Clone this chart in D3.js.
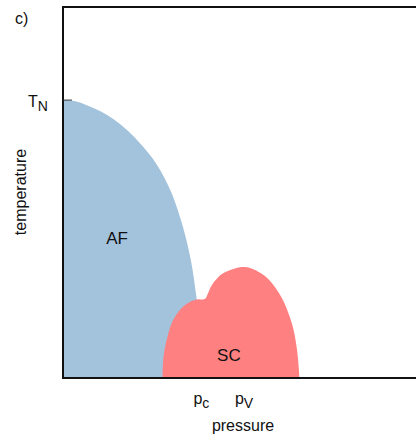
<!DOCTYPE html>
<html>
<head>
<meta charset="utf-8">
<script src="https://cdn.jsdelivr.net/npm/d3@7"></script>
<style>
  body { margin: 0; background: #fff; }
  svg text { font-family: "Liberation Sans", Arial, sans-serif; fill: #111; }
</style>
</head>
<body>
<svg id="chart"></svg>
<script>
// phase boundaries (pressure, temperature in T_N units)
var afPressure = [0, 0.368, 0.708, 1.076, 1.445, 1.813, 2.181, 2.550, 2.833, 3.088, 3.399, 3.626, 3.768, 3.909, 3.980];
var afTemp     = [1, 0.995, 0.980, 0.959, 0.930, 0.892, 0.845, 0.788, 0.730, 0.662, 0.543, 0.421, 0.302, 0.158, 0];

var scPressure = [2.82, 2.85, 2.95, 3.09, 3.26, 3.46, 3.65, 3.82, 4.02, 4.11, 4.22, 4.50, 4.87, 5.10, 5.30, 5.62, 5.85, 6.20, 6.49, 6.63, 6.70];
var scTemp     = [0, 0.079, 0.144, 0.201, 0.237, 0.263, 0.277, 0.283, 0.284, 0.306, 0.335, 0.374, 0.394, 0.399, 0.396, 0.376, 0.352, 0.288, 0.194, 0.101, 0];

var xTicks = [{p: 3.92, base: 'p', sub: 'c'}, {p: 5.13, base: 'p', sub: 'V'}];
var yTicks = [{t: 1, base: 'T', sub: 'N'}];

var width = 416, height = 436;
var margin = {left: 63, top: 7, bottom: 378};

var svg = d3.select('#chart')
  .attr('width', width)
  .attr('height', height);

var x = d3.scaleLinear().domain([0, 10]).range([margin.left, width]);
var y = d3.scaleLinear().domain([0, 1.335]).range([margin.bottom, margin.top]);

var af = afPressure.map(function(p, i) { return [p, afTemp[i]]; });
var sc = scPressure.map(function(p, i) { return [p, scTemp[i]]; });

var area = d3.area()
  .x(function(d) { return x(d[0]); })
  .y0(y(0))
  .y1(function(d) { return y(d[1]); })
  .curve(d3.curveCatmullRom.alpha(0.5));

svg.append('path').datum(af)
  .attr('d', area)
  .attr('fill', '#a3c2dc');

svg.append('path').datum(sc)
  .attr('d', area)
  .attr('fill', '#ff8080');

// frame: left, top and bottom lines
svg.append('path')
  .attr('d', 'M' + width + ',' + margin.top + 'H' + margin.left + 'V' + margin.bottom + 'H' + width)
  .attr('fill', 'none')
  .attr('stroke', '#111')
  .attr('stroke-width', 2);

// T_N tick
yTicks.forEach(function(d) {
  svg.append('line')
    .attr('x1', margin.left).attr('x2', margin.left + 9)
    .attr('y1', y(d.t)).attr('y2', y(d.t))
    .attr('stroke', '#333').attr('stroke-width', 1);
  var t = svg.append('text')
    .attr('x', 28).attr('y', y(d.t) + 7)
    .attr('font-size', 16);
  t.append('tspan').text(d.base);
  t.append('tspan').attr('dy', 4).attr('font-size', 14).text(d.sub);
});

xTicks.forEach(function(d) {
  var t = svg.append('text')
    .attr('x', x(d.p)).attr('y', 404)
    .attr('text-anchor', 'middle')
    .attr('font-size', 16);
  t.append('tspan').text(d.base);
  t.append('tspan').attr('dy', 4).attr('font-size', 14).text(d.sub);
});

svg.append('text')
  .attr('x', 243).attr('y', 431)
  .attr('text-anchor', 'middle')
  .attr('font-size', 16)
  .text('pressure');

svg.append('text')
  .attr('transform', 'translate(26,192) rotate(-90)')
  .attr('text-anchor', 'middle')
  .attr('font-size', 16)
  .text('temperature');

svg.append('text')
  .attr('x', 15).attr('y', 24)
  .attr('font-size', 16)
  .text('c)');

svg.append('text')
  .attr('x', x(1.53)).attr('y', 244)
  .attr('text-anchor', 'middle')
  .attr('font-size', 17)
  .text('AF');

svg.append('text')
  .attr('x', x(4.7)).attr('y', 361)
  .attr('text-anchor', 'middle')
  .attr('font-size', 17)
  .text('SC');
</script>
</body>
</html>
